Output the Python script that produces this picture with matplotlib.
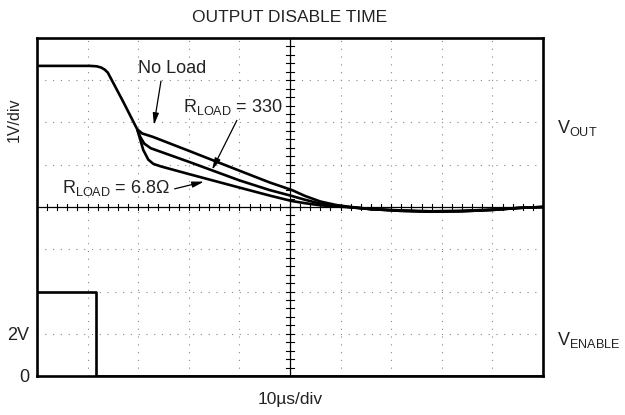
"""Scope capture: output disable time."""

import matplotlib

matplotlib.use("Agg")

import matplotlib.pyplot as plt
import numpy as np

plt.rcParams["font.family"] = ["Liberation Sans", "DejaVu Sans"]
TEXT = "#222222"
FS = 13

# screen is 10 x 8 divisions, origin at bottom-left corner
N_XDIV, N_YDIV = 10, 8

# traces, in divisions
flat_x = [0.0, 1.05, 1.18, 1.27, 1.34, 1.40, 1.70, 1.98]
flat_y = [7.34, 7.34, 7.33, 7.30, 7.25, 7.18, 6.50, 5.84]

noload_x = [1.98, 2.08, 2.29, 3.00, 4.00, 4.60, 5.04, 5.30, 5.60, 5.90, 6.13,
            6.60, 7.17, 7.77, 8.40, 9.00, 9.55, 10.0]
noload_y = [5.84, 5.74, 5.66, 5.33, 4.86, 4.58, 4.40, 4.26, 4.13, 4.05, 4.01,
            3.95, 3.91, 3.89, 3.90, 3.93, 3.98, 4.0]

r330_x = [1.98, 2.04, 2.12, 2.25, 3.00, 4.00, 4.60, 5.04, 5.30, 5.60, 5.90,
          6.13, 6.60, 7.17, 7.77, 8.40, 9.00, 9.55, 10.0]
r330_y = [5.84, 5.66, 5.50, 5.39, 5.07, 4.63, 4.40, 4.26, 4.17, 4.08, 4.03,
          4.00, 3.95, 3.91, 3.89, 3.90, 3.93, 3.98, 4.0]

r68_x = [1.98, 2.10, 2.20, 2.30, 2.45, 3.00, 4.00, 4.60, 5.04, 5.30, 5.60,
         5.90, 6.13, 6.60, 7.17, 7.77, 8.40, 9.00, 9.55, 10.0]
r68_y = [5.84, 5.35, 5.12, 5.02, 4.96, 4.78, 4.46, 4.27, 4.14, 4.09, 4.04,
         4.01, 4.00, 3.95, 3.92, 3.90, 3.91, 3.94, 3.98, 4.0]

enable_x = [0.0, 1.16, 1.16, 10.0]
enable_y = [2.0, 2.0, 0.0, 0.0]

fig = plt.figure(figsize=(6.25, 4.15), dpi=100)
ax = fig.add_axes([37 / 625, 1 - 376 / 415, 506 / 625, 338 / 415])
ax.set_xlim(0, N_XDIV)
ax.set_ylim(0, N_YDIV)
ax.set_xticks([])
ax.set_yticks([])
for sp in ax.spines.values():
    sp.set_linewidth(1.9)
    sp.set_color("black")

# dotted graticule
for gx in range(1, N_XDIV):
    if gx != N_XDIV // 2:
        ax.axvline(gx, color="#888888", lw=0.8, ls=(0, (1, 6)), zorder=1)
for gy in range(1, N_YDIV):
    if gy != N_YDIV // 2:
        ax.axhline(gy, color="#888888", lw=0.8, ls=(0, (1, 6)), zorder=1)

# centre axes with minor ticks
cx, cy = N_XDIV / 2, N_YDIV / 2
ax.axvline(cx, color="black", lw=0.9, zorder=2)
ax.axhline(cy, color="black", lw=0.9, zorder=2)
for t in np.arange(0.2, N_XDIV, 0.2):
    ax.plot([t, t], [cy - 0.06, cy + 0.06], color="black", lw=0.8, zorder=2)
for t in np.arange(0.2, N_YDIV, 0.2):
    ax.plot([cx - 0.07, cx + 0.07], [t, t], color="black", lw=0.8, zorder=2)

kw = dict(color="black", lw=1.9, solid_capstyle="butt", zorder=4)
ax.plot(flat_x, flat_y, **kw)
ax.plot(noload_x, noload_y, **kw)
ax.plot(r330_x, r330_y, **kw)
ax.plot(r68_x, r68_y, **kw)
ax.plot(enable_x, enable_y, **kw)

arrow = dict(arrowstyle="-|>,head_length=0.7,head_width=0.18", color="black",
             lw=0.9, shrinkA=0, shrinkB=0)
ax.text(2.0, 7.27, "No Load", fontsize=FS, color=TEXT, ha="left",
        va="center", zorder=6)
ax.annotate("", xy=(2.31, 5.94), xytext=(2.45, 6.98), arrowprops=arrow,
            zorder=6)
ax.text(2.88, 6.37, r"$\mathregular{R_{LOAD}}$ = 330", fontsize=FS,
        color=TEXT, ha="left", va="center", zorder=6)
ax.annotate("", xy=(3.46, 4.88), xytext=(3.95, 6.05), arrowprops=arrow,
            zorder=6)
ax.text(0.5, 4.45, r"$\mathregular{R_{LOAD}}$ = 6.8Ω", fontsize=FS,
        color=TEXT, ha="left", va="center", zorder=6)
ax.annotate("", xy=(3.30, 4.60), xytext=(2.72, 4.43), arrowprops=arrow,
            zorder=6)

fig.text(290 / 625, 1 - 18 / 415, "OUTPUT DISABLE TIME", fontsize=FS - 0.5,
         color=TEXT, ha="center", va="center")
fig.text(290 / 625, 1 - 399 / 415, "10µs/div", fontsize=FS - 0.5,
         color=TEXT, ha="center", va="center")
fig.text(14 / 625, 1 - 120 / 415, "1V/div", fontsize=11.5, color=TEXT,
         ha="center", va="center", rotation=90)
fig.text(29 / 625, 1 - 335 / 415, "2V", fontsize=FS, color=TEXT,
         ha="right", va="center")
fig.text(29 / 625, 1 - 377 / 415, "0", fontsize=FS, color=TEXT,
         ha="right", va="center")
fig.text(557 / 625, 1 - 128 / 415, r"$\mathregular{V_{OUT}}$", fontsize=FS,
         color=TEXT, ha="left", va="center")
fig.text(557 / 625, 1 - 340 / 415, r"$\mathregular{V_{ENABLE}}$",
         fontsize=FS, color=TEXT, ha="left", va="center")

fig.savefig("out.png", dpi=100, facecolor="white")
